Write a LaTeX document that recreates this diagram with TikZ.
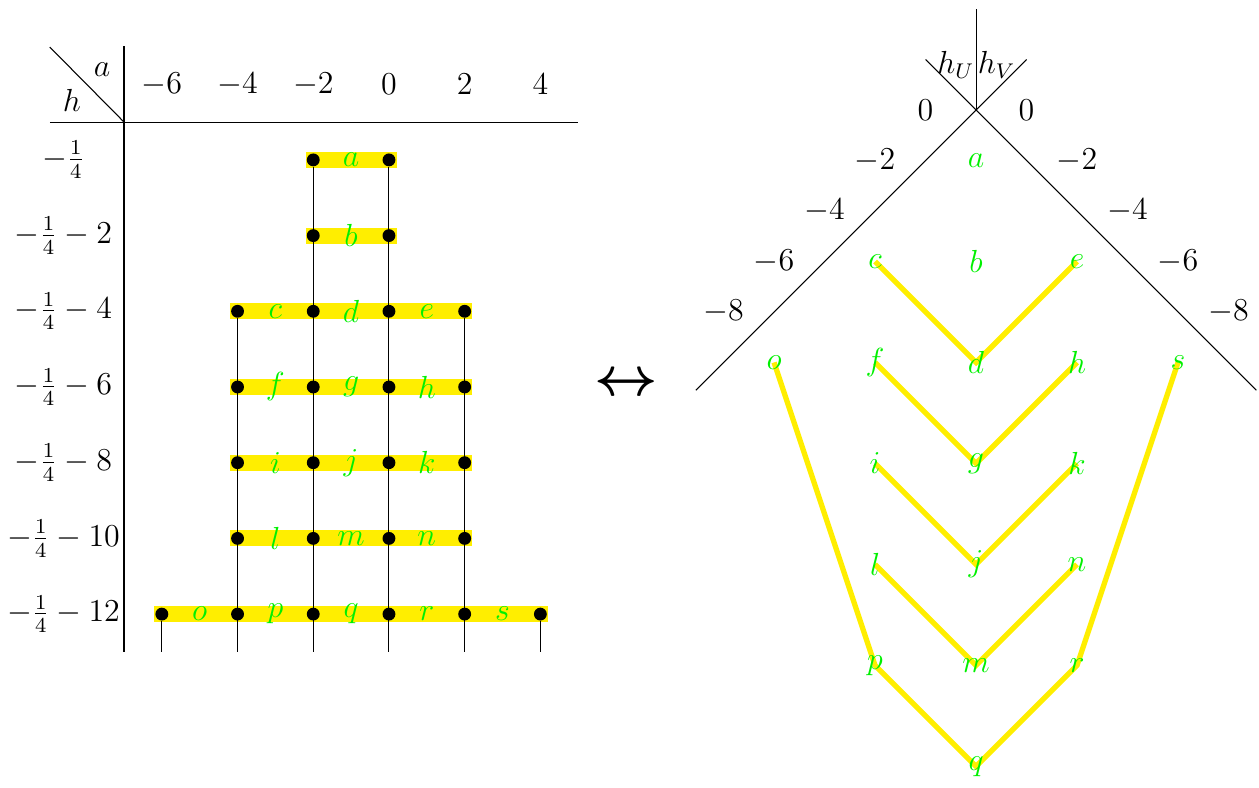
\documentclass[tikz,border=0pt]{standalone}
\usepackage{tikz}
\usetikzlibrary{positioning}
\definecolor{barYellow}{RGB}{255,238,0}
\definecolor{labelGreen}{RGB}{0,240,0}

\begin{document}
\begin{tikzpicture}[
  font=\large,
  dot/.style={circle, fill=black, inner sep=0pt, minimum size=0.17cm},
  bar/.style={fill=barYellow},
  lbl/.style={text=labelGreen, inner sep=1pt},
  tick/.style={inner sep=1pt},
  pairing/.style={draw=barYellow, line width=2pt}
]
\useasboundingbox (-1.638,-8.785) rectangle (14.993,1.612);

%  Table frame 
\draw (-0.98,0) -- (6.0,0);
\draw (0,1) -- (0,-7);
\draw (-0.98,0.99) -- (0,0);
\node (hdr-a) at (-0.29,0.69) {$a$};
\node (hdr-h) at (-0.69,0.28) {$h$};

\foreach \a [count=\i from 0] in {-6,-4,-2,0,2,4}
  \node (col\i) at (\i+0.5,0.5) {$\a$};

\node (row0) at (-0.8,-0.5) {$-\frac{1}{4}$};
\foreach \k/\v in {1/2,2/4,3/6,4/8,5/10,6/12}
  \node (row\k) at (-0.8,-\k-0.5) {$-\frac{1}{4}-\v$};

%  Bars and dots 
\foreach \row/\first/\last in {0/2/3,1/2/3,2/1/4,3/1/4,4/1/4,5/1/4,6/0/5} {
  \fill[bar] (\first+0.4,-\row-0.605) rectangle (\last+0.6,-\row-0.395);
  \foreach \col in {\first,...,\last}
    \node[dot] (r\row c\col) at (\col+0.5,-\row-0.5) {};
}

%  Columns 
\foreach \col/\top in {0/6,1/2,2/0,3/0,4/2,5/6} {
  \coordinate (bot\col) at (\col+0.5,-7);
  \draw (r\top c\col) -- (bot\col);
}

%  Labels in the table 
\foreach \nm/\px/\py in {a/3/0,b/3/1,c/2/2,d/3/2,e/4/2,f/2/3,g/3/3,h/4/3,
  i/2/4,j/3/4,k/4/4,l/2/5,m/3/5,n/4/5,o/1/6,p/2/6,q/3/6,r/4/6,s/5/6}
  \node[lbl] (t\nm) at (\px,-\py-0.5) {$\nm$};

\node[font=\huge\boldmath] (arr) at (6.63,-3.47) {$\leftrightarrow$};

%  Rotated picture 
\begin{scope}[shift={(11.255,0.159)}, x=0.667cm, y=0.667cm]
  \coordinate (apex) at (0,0);
  \coordinate (uLow) at (-5.55,-5.55);
  \coordinate (uTop) at (1,1);
  \coordinate (vLow) at (5.55,-5.55);
  \coordinate (vTop) at (-1,1);
  \coordinate (mid) at (0,2);
  \draw (uLow) -- (uTop);
  \draw (vLow) -- (vTop);
  \draw (apex) -- (mid);
  \node[inner sep=0.5pt, anchor=east] (hU) at (0,0.9) {$h_U$};
  \node[inner sep=0.5pt, anchor=west] (hV) at (0,0.9) {$h_V$};

  \foreach \v in {0,-2,-4,-6,-8} {
    \node[tick] (u\v) at (\v/2-1,\v/2) {$\v$};
    \node[tick] (v\v) at (1-\v/2,\v/2) {$\v$};
  }

  % pairs
  \foreach \nm/\px/\py in {a/0/1,b/0/3,c/-2/3,e/2/3,d/0/5,f/-2/5,h/2/5,
    o/-4/5,s/4/5,g/0/7,i/-2/7,k/2/7,j/0/9,l/-2/9,n/2/9,m/0/11,p/-2/11,
    r/2/11,q/0/13}
    \coordinate (p\nm) at (\px,-\py);

  \draw[pairing] (pc) -- (pd) -- (pe);
  \draw[pairing] (pf) -- (pg) -- (ph);
  \draw[pairing] (pi) -- (pj) -- (pk);
  \draw[pairing] (pl) -- (pm) -- (pn);
  \draw[pairing] (po) -- (pp) -- (pq) -- (pr) -- (ps);

  \foreach \nm in {a,b,c,d,e,f,g,h,i,j,k,l,m,n,o,p,q,r,s}
    \node[lbl] (w\nm) at (p\nm) {$\nm$};
\end{scope}

\end{tikzpicture}
\end{document}
